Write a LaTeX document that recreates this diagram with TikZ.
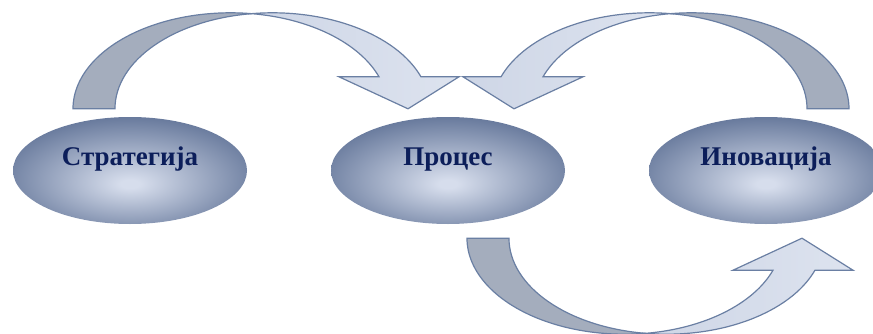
\documentclass[tikz,border=0pt]{standalone}
\usepackage{fontspec}
\setmainfont{Liberation Serif}
\usepackage{tikz}
\usetikzlibrary{positioning, shapes.geometric}

\definecolor{ovaledge}{RGB}{102,120,155}
\definecolor{ovallight}{RGB}{214,221,236}
\definecolor{arrowline}{RGB}{106,127,163}
\definecolor{arrowback}{RGB}{164,173,189}
\definecolor{arrowfrontA}{RGB}{206,214,230}
\definecolor{arrowfrontB}{RGB}{221,227,239}
\definecolor{labelblue}{RGB}{12,30,90}

\pgfdeclareradialshading{ovalglow}{\pgfpoint{0bp}{-6.5bp}}{color(0bp)=(ovallight); color(2bp)=(ovallight); color(29bp)=(ovaledge); color(60bp)=(ovaledge)}

\begin{document}
\begin{tikzpicture}[
	    x=1pt, y=1pt,
	    oval/.style={ellipse, minimum width=234pt, minimum height=107pt, inner sep=0pt, shade, shading=ovalglow},
	    lbl/.style={anchor=base, inner sep=0pt, text=labelblue, font=\fontsize{27}{30}\selectfont\bfseries},
	    backpart/.style={draw=arrowline, line width=1.2pt, fill=arrowback},
	    frontpart/.style={draw=arrowline, line width=1.2pt, left color=arrowfrontA, right color=arrowfrontB},
	    bendarrow/.pic={
	        \path[backpart] (0,0) arc[start angle=180, end angle=82.34, x radius=157.5, y radius=96]
	            arc[start angle=97.66, end angle=180, x radius=157.5, y radius=96] -- cycle;
	        \path[frontpart] (178.5,95.14) arc[start angle=97.66, end angle=19.47, x radius=157.5, y radius=96]
	            -- (386,32) -- (335,0) -- (266,32) -- (306,32)
	            arc[start angle=19.47, end angle=82.34, x radius=157.5, y radius=96] -- cycle;
	    }
	]
		\useasboundingbox (0,0) rectangle (873,333);

		\node[oval] (str) at (130,162.5) {};
		\node[oval] (pro) at (448,162.5) {};
		\node[oval] (ino) at (766,162.5) {};

		\node[lbl] (strtxt) at ([yshift=5.5]str.center) {Стратегија};
		\node[lbl] (protxt) at ([yshift=5.5]pro.center) {Процес};
		\node[lbl] (inotxt) at ([yshift=5.5]ino.center) {Иновација};

		\pic at ([xshift=-57,yshift=8]str.north) {bendarrow};
		\pic[xscale=-1] at ([xshift=83,yshift=8]ino.north) {bendarrow};
		\pic[yscale=-1] at ([xshift=19,yshift=-14]pro.south) {bendarrow};
	\end{tikzpicture}
\end{document}
